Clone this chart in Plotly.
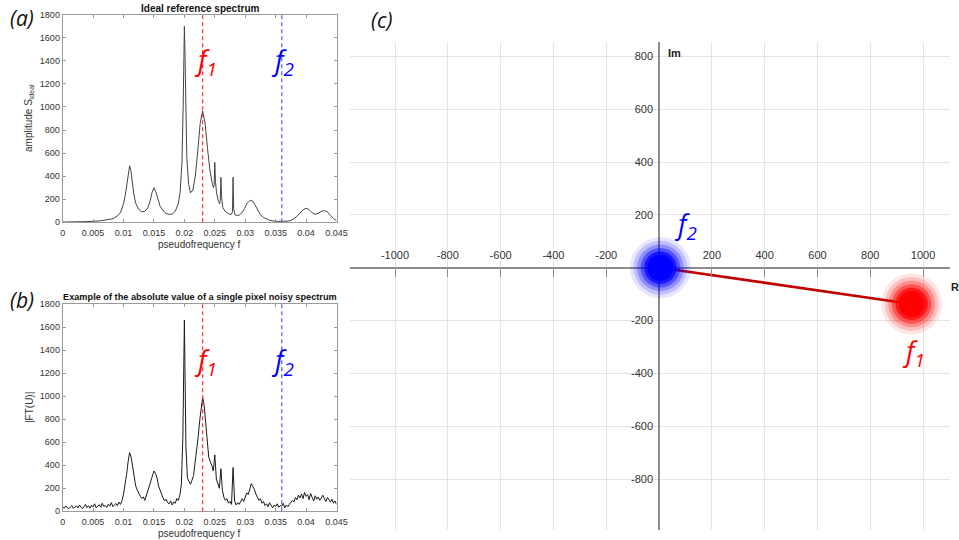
import numpy as np
import plotly.graph_objects as go

# ---------------- data ----------------
# Ideal reference spectrum (pseudofrequency, amplitude)
freq_ideal = [0.0, 0.002, 0.004, 0.006, 0.007, 0.008, 0.0085, 0.009, 0.0095, 0.010,
              0.0103, 0.0106, 0.0108, 0.011, 0.0112, 0.0114, 0.0117, 0.012, 0.0125, 0.013,
              0.0135, 0.014, 0.0144, 0.0147, 0.015, 0.0153, 0.0156, 0.016, 0.0165, 0.017,
              0.0175, 0.018, 0.0185, 0.019, 0.0193, 0.0196, 0.0198, 0.0199, 0.020, 0.0201,
              0.0202, 0.0204, 0.0207, 0.021, 0.0214, 0.0218, 0.0222, 0.0226, 0.023, 0.0234,
              0.0238, 0.0242, 0.0246, 0.0248, 0.0249, 0.025, 0.0251, 0.0253, 0.0256, 0.0258,
              0.0259, 0.026, 0.0261, 0.0263, 0.0267, 0.0272, 0.0277, 0.0279, 0.028, 0.0281,
              0.0283, 0.0287, 0.029, 0.0295, 0.0299, 0.0303, 0.0307, 0.031, 0.0313, 0.0317,
              0.0321, 0.0325, 0.033, 0.0335, 0.034, 0.035, 0.036, 0.037, 0.0375, 0.038,
              0.0385, 0.039, 0.0395, 0.040, 0.0405, 0.041, 0.0415, 0.042, 0.0425, 0.043,
              0.0435, 0.044, 0.0445, 0.045]
amp_ideal = [2, 3, 6, 12, 18, 28, 38, 55, 85, 160,
             240, 360, 440, 490, 450, 360, 240, 165, 112, 90,
             95, 125, 190, 260, 300, 265, 200, 140, 100, 78,
             68, 72, 95, 160, 260, 520, 1000, 1450, 1700, 1450,
             1000, 560, 330, 255, 280, 400, 620, 860, 965, 860,
             640, 450, 330, 300, 330, 520, 360, 250, 180, 160,
             190, 390, 230, 130, 95, 75, 68, 90, 390, 120,
             65, 58, 62, 85, 120, 165, 185, 190, 180, 140,
             95, 65, 42, 28, 18, 8, 6, 10, 16, 30,
             52, 80, 108, 122, 110, 82, 70, 78, 95, 102,
             90, 60, 32, 15]

# Single-pixel noisy spectrum |FT(U)|, sampled every F_STEP from 0
F_STEP = 0.00025
amp_noisy = [35, 28, 45, 30, 22, 38, 50, 26, 33, 47,
             29, 55, 36, 24, 41, 60, 32, 48, 27, 52,
             38, 65, 30, 44, 58, 35, 70, 42, 50, 33,
             62, 45, 75, 40, 55, 68, 48, 80, 60, 95,
             150, 230, 320, 430, 510, 470, 380, 300, 220, 185,
             150, 130, 110, 125, 95, 140, 165, 220, 270, 320,
             350, 330, 290, 220, 180, 140, 115, 90, 105, 75,
             65, 90, 55, 80, 70, 110, 95, 140, 230, 650,
             1660, 560, 290, 260, 235, 270, 310, 420, 520, 640,
             780, 900, 990, 920, 760, 600, 470, 430, 400, 350,
             490, 280, 240, 200, 370, 180, 120, 95, 110, 70,
             85, 60, 380, 90, 55, 75, 60, 90, 110, 85,
             130, 160, 145, 200, 240, 215, 190, 150, 120, 95,
             110, 70, 85, 50, 65, 40, 75, 45, 30, 55,
             40, 65, 35, 50, 45, 70, 30, 55, 40, 60,
             75, 95, 80, 120, 100, 140, 115, 150, 110, 165,
             130, 145, 100, 155, 120, 90, 135, 105, 125, 95,
             115, 140, 110, 85, 120, 95, 80, 105, 70, 90,
             60]
freq_noisy = np.arange(len(amp_noisy)) * F_STEP

# Marked pseudofrequencies
F1 = 0.023
F2 = 0.036

# Spectrum axes ticks
spec_xticks = [0, 0.005, 0.01, 0.015, 0.02, 0.025, 0.03, 0.035, 0.04, 0.045]
spec_xtext = ["0", "0.005", "0.01", "0.015", "0.02", "0.025", "0.03", "0.035", "0.04", "0.045"]
spec_yticks = [0, 200, 400, 600, 800, 1000, 1200, 1400, 1600, 1800]

# Complex plane: centres and spread of the two Fourier-coefficient clouds
cloud_names = ["f1", "f2"]
cloud_re = [957, 5]
cloud_im = [-137, 0]
cloud_sigma = [34, 34]
cloud_colors = ["#ff0000", "#0000ff"]
cloud_core = ["#d00000", "#0000c0"]
re_ticks = [-1000, -800, -600, -400, -200, 200, 400, 600, 800, 1000]
im_ticks = [-800, -600, -400, -200, 200, 400, 600, 800]

# ---------------- layout geometry (pixels) ----------------
W, H = 959, 540


def px_x(p):
    return p / W


def px_y(p):
    return 1 - p / H


A_X = [62.7, 336.5]
A_Y = [14.7, 222.3]
B_Y = [304.0, 511.3]
C_X = [350.0, 950.0]
C_Y = [41.7, 530.0]
RE_RANGE = [-1170.5, 1102.0]
IM_RANGE = [-993.0, 856.0]

c_zero_x = C_X[0] + (0 - RE_RANGE[0]) / (RE_RANGE[1] - RE_RANGE[0]) * (C_X[1] - C_X[0])
c_zero_y = C_Y[1] - (0 - IM_RANGE[0]) / (IM_RANGE[1] - IM_RANGE[0]) * (C_Y[1] - C_Y[0])

FONT = "Liberation Sans, Arial, sans-serif"
LABEL_FONT = "Open Sans, Noto Sans, sans-serif"
FRAME = "#9a9a9a"


def note(x, y, text, size, color="#333333", family=FONT, xref="paper", yref="paper", **kw):
    return dict(x=x, y=y, xref=xref, yref=yref, text=text, showarrow=False,
                xanchor="center", yanchor="middle",
                font=dict(family=family, size=size, color=color), **kw)


fig = go.Figure()

fig.add_trace(go.Scatter(x=freq_ideal, y=amp_ideal, mode="lines",
                         line=dict(color="#444444", width=1), xaxis="x", yaxis="y",
                         showlegend=False, hoverinfo="skip"))
fig.add_trace(go.Scatter(x=freq_noisy, y=amp_noisy, mode="lines",
                         line=dict(color="#1a1a1a", width=1), xaxis="x2", yaxis="y2",
                         showlegend=False, hoverinfo="skip"))

spec_axis = dict(range=[0, 0.045], tickvals=spec_xticks, ticktext=spec_xtext,
                 showline=True, mirror="ticks", linecolor=FRAME, linewidth=1,
                 ticks="inside", ticklen=3, tickcolor=FRAME, showgrid=False, zeroline=False,
                 automargin=False, ticklabelstandoff=2,
                 tickfont=dict(family=FONT, size=9, color="#333333"))
spec_yaxis = dict(range=[0, 1800], tickvals=spec_yticks,
                  showline=True, mirror="ticks", linecolor=FRAME, linewidth=1,
                  ticks="inside", ticklen=3, tickcolor=FRAME, showgrid=False, zeroline=False,
                  automargin=False,
                  tickfont=dict(family=FONT, size=9, color="#333333"))

shapes = []
annotations = []

for xa, ya in (("x", "y"), ("x2", "y2")):
    shapes.append(dict(type="line", xref=xa, yref=ya + " domain", x0=F1, x1=F1, y0=0, y1=1,
                       line=dict(color="#ff3030", width=1.2, dash="4px,3px")))
    shapes.append(dict(type="line", xref=xa, yref=ya + " domain", x0=F2, x1=F2, y0=0, y1=1,
                       line=dict(color="#5a5aff", width=1.2, dash="4px,3px")))

# f1 / f2 labels on the spectra
for xa, ya, yv in (("x", "y", 1390), ("x2", "y2", 1300)):
    annotations.append(note(0.0234, yv, "<i>f<sub>1</sub></i>", 27, "#ff0000",
                            LABEL_FONT, xa, ya))
    annotations.append(note(0.0362, yv, "<i>f<sub>2</sub></i>", 27, "#0000ff",
                            LABEL_FONT, xa, ya))

# Titles and axis labels of the spectra
mid_ab = px_x((A_X[0] + A_X[1]) / 2)
annotations += [
    note(mid_ab, px_y(8), "<b>Ideal reference spectrum</b>", 10, "#111111"),
    note(mid_ab, px_y(297), "<b>Example of the absolute value of a single pixel noisy spectrum</b>",
         9.2, "#111111"),
    note(mid_ab, px_y(244), "pseudofrequency f", 10),
    note(mid_ab, px_y(533), "pseudofrequency f", 10),
    note(px_x(29), px_y(118), "amplitude S<sub>ideal</sub>", 10, textangle=-90),
    note(px_x(29), px_y(408), "|FT(U)|", 10, textangle=-90),
    note(px_x(22), px_y(18), "<i>(a)</i>", 21, "#111111", LABEL_FONT),
    note(px_x(22), px_y(300), "<i>(b)</i>", 21, "#111111", LABEL_FONT),
    note(px_x(381), px_y(20), "<i>(c)</i>", 21, "#111111", LABEL_FONT),
]

# ---------------- complex plane ----------------
# Clouds drawn as stacked translucent discs around each centre
ring_scale = [3.4, 3.0, 2.6, 2.2, 1.8, 1.45]
ring_alpha = [0.10, 0.16, 0.26, 0.42, 0.7, 0.95]
for re0, im0, sg, col in zip(cloud_re, cloud_im, cloud_sigma, cloud_colors):
    for k, a in zip(ring_scale, ring_alpha):
        r = k * sg
        shapes.append(dict(type="circle", xref="x3", yref="y3", layer="above",
                           x0=re0 - r, x1=re0 + r, y0=im0 - r, y1=im0 + r,
                           fillcolor=col, opacity=a, line=dict(width=0)))

# Vector joining the two cloud centres
fig.add_trace(go.Scatter(x=cloud_re[::-1], y=cloud_im[::-1], mode="lines",
                         line=dict(color="#c00000", width=2.6), xaxis="x3", yaxis="y3",
                         showlegend=False, hoverinfo="skip"))
fig.add_trace(go.Scatter(x=cloud_re, y=cloud_im, mode="markers",
                         marker=dict(size=[20, 10], color=cloud_core, opacity=0.6,
                                     line=dict(color=["#a00000", "#000090"], width=1.5)),
                         xaxis="x3", yaxis="y3", showlegend=False, hoverinfo="skip"))

annotations += [
    note(102, 160, "<i>f<sub>2</sub></i>", 27, "#0000ff", LABEL_FONT, "x3", "y3"),
    note(962, -322, "<i>f<sub>1</sub></i>", 27, "#ff0000", LABEL_FONT, "x3", "y3"),
    note(px_x(674), px_y(53), "<b>Im</b>", 11, "#222222"),
    note(px_x(955), px_y(287), "<b>R</b>", 11, "#222222"),
]

fig.update_layout(
    width=W, height=H, margin=dict(l=0, r=0, t=0, b=0, pad=0, autoexpand=False),
    paper_bgcolor="white", plot_bgcolor="white", showlegend=False,
    xaxis=dict(domain=[px_x(A_X[0]), px_x(A_X[1])], anchor="y", **spec_axis),
    yaxis=dict(domain=[px_y(A_Y[1]), px_y(A_Y[0])], anchor="x", **spec_yaxis),
    xaxis2=dict(domain=[px_x(A_X[0]), px_x(A_X[1])], anchor="y2", **spec_axis),
    yaxis2=dict(domain=[px_y(B_Y[1]), px_y(B_Y[0])], anchor="x2", **spec_yaxis),
    xaxis3=dict(domain=[px_x(C_X[0]), px_x(C_X[1])], range=RE_RANGE, anchor="free",
                position=px_y(c_zero_y), side="top", tickvals=re_ticks,
                ticktext=[str(v) for v in re_ticks],
                showline=True, linecolor="#8c8c8c", linewidth=1.5,
                ticks="inside", ticklen=8, tickcolor="#8c8c8c", ticklabelstandoff=4,
                showgrid=True, gridcolor="#e4e4e4", gridwidth=1, zeroline=False,
                automargin=False,
                tickfont=dict(family=FONT, size=11, color="#333333")),
    yaxis3=dict(domain=[px_y(C_Y[1]), px_y(C_Y[0])], range=IM_RANGE, anchor="free",
                position=px_x(c_zero_x), side="left", tickvals=im_ticks,
                ticktext=[str(v) for v in im_ticks],
                showline=True, linecolor="#8c8c8c", linewidth=1.5,
                ticks="", showgrid=True, gridcolor="#e4e4e4", gridwidth=1, zeroline=False,
                automargin=False, ticklabelstandoff=3,
                tickfont=dict(family=FONT, size=11, color="#333333")),
    shapes=shapes,
    annotations=annotations,
)

fig.write_html("out.html")
